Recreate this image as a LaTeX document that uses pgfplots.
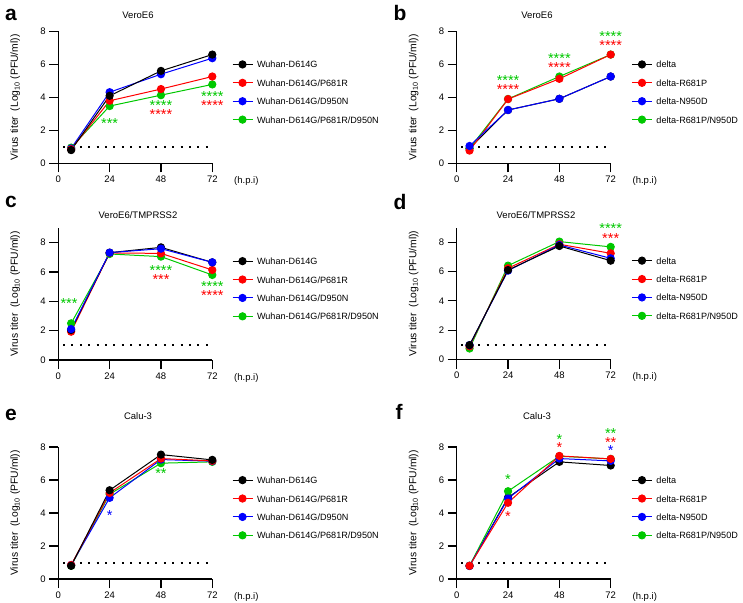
\documentclass[border=0pt]{standalone}
\usepackage{fontspec}
\setmainfont{Liberation Sans}
\usepackage{pgfplots}
\pgfplotsset{compat=1.18}
\definecolor{cred}{RGB}{255,0,0}
\definecolor{cblue}{RGB}{0,0,255}
\definecolor{cgreen}{RGB}{0,200,0}
\newcommand{\fs}[1]{\fontsize{#1}{#1}\selectfont}
\newcommand{\ylab}{Virus titer\ \ (Log\textsubscript{10} (PFU/ml))}
\pgfplotsset{
 panel/.style={
  scale only axis, width=154pt, height=132pt,
  xmin=0, xmax=72, ymin=0, ymax=8,
  axis x line=bottom, axis y line=left,
  axis line style={line width=1.1pt, -},
  xtick={0,24,48,72}, ytick={0,2,4,6,8},
  tick align=outside, major tick length=9pt,
  tick style={line width=1.1pt, black},
  ticklabel style={font=\fs{9.5}},
  /pgf/number format/assume math mode=true,
  clip=false,
  legend cell align=left,
  legend style={draw=none, fill=none, anchor=west, inner sep=0pt, outer sep=0pt,
    font=\fs{9.1}, row sep=11.2pt,
    nodes={inner sep=0pt, text height=7pt, text depth=0pt},
    /tikz/every odd column/.append style={column sep=4pt}},
  legend image code/.code={\draw[mark repeat=2,mark phase=2] plot coordinates {(0pt,0pt) (10pt,0pt) (20pt,0pt)};},
 },
 left/.style={legend style={at={(1.128,0.54)}}},
 right/.style={legend style={at={(1.135,0.54)}}},
 ser/.style={line width=1pt, color=#1, mark=*, mark size=3.6pt, mark options={solid, fill=#1, draw=#1}},
 lod/.style={black, line width=2pt, dash pattern=on 2pt off 6.4pt, forget plot},
}
\tikzset{st/.style={font=\fs{14.5}, inner sep=0pt, text height=10.2pt, text depth=-5pt, yshift=-0.6pt},
 hpi/.style={anchor=west, font=\fs{9.5}, xshift=18.4pt, yshift=-17.7pt},
 ylb/.style={rotate=90, font=\fs{10.3}},
 ttl/.style={font=\fs{9.5}},
 let/.style={anchor=base west, font=\fs{21}\bfseries}}
\newcommand{\leftleg}{%
 \addlegendimage{ser=black}\addlegendentry{Wuhan-D614G}
 \addlegendimage{ser=cred}\addlegendentry{Wuhan-D614G/P681R}
 \addlegendimage{ser=cblue}\addlegendentry{Wuhan-D614G/D950N}
 \addlegendimage{ser=cgreen}\addlegendentry{Wuhan-D614G/P681R/D950N}}
\newcommand{\rightleg}{%
 \addlegendimage{ser=black}\addlegendentry{delta}
 \addlegendimage{ser=cred}\addlegendentry{delta-R681P}
 \addlegendimage{ser=cblue}\addlegendentry{delta-N950D}
 \addlegendimage{ser=cgreen}\addlegendentry{delta-R681P/N950D}}
\begin{document}
\begin{tikzpicture}
\useasboundingbox (0,0) rectangle (743pt,-602pt);
% titles and letters
\node[let] at (1.5pt,-20.7pt) {a};
\node[let] at (390pt,-20.7pt) {b};
\node[let] at (1.5pt,-207.5pt) {c};
\node[let] at (390pt,-209pt) {d};
\node[let] at (1.5pt,-420pt) {e};
\node[let] at (392pt,-419pt) {f};
\node[ttl] at (138pt,-15pt) {VeroE6};
\node[ttl] at (537pt,-15pt) {VeroE6};
\node[ttl] at (138pt,-215pt) {VeroE6/TMPRSS2};
\node[ttl] at (536pt,-215pt) {VeroE6/TMPRSS2};
\node[ttl] at (138pt,-416pt) {Calu-3};
\node[ttl] at (537pt,-416pt) {Calu-3};

% ---- a
\begin{axis}[panel, left, at={(58.3pt,-163.3pt)}, anchor=south west]
\addplot[lod] coordinates {(2.2,1) (69.8,1)};
\addplot[ser=cgreen, forget plot] coordinates {(6,0.95)(24,3.47)(48,4.13)(72,4.78)};
\addplot[ser=cblue, forget plot] coordinates {(6,0.9)(24,4.31)(48,5.4)(72,6.37)};
\addplot[ser=cred, forget plot] coordinates {(6,0.85)(24,3.79)(48,4.5)(72,5.26)};
\addplot[ser=black, forget plot] coordinates {(6,0.8)(24,4.09)(48,5.6)(72,6.59)};
\leftleg
\node[st, cgreen] at (axis cs:24,2.48) {***};
\node[st, cgreen] at (axis cs:48,3.57) {****};
\node[st, cred] at (axis cs:48,3.02) {****};
\node[st, cgreen] at (axis cs:72,4.11) {****};
\node[st, cred] at (axis cs:72,3.55) {****};
\node[hpi] at (axis cs:72,0) {(h.p.i)};
\node[ylb] at ([xshift=-43pt]rel axis cs:0,0.5) {\ylab};
\end{axis}

% ---- b
\begin{axis}[panel, right, at={(456.7pt,-163.3pt)}, anchor=south west]
\addplot[lod] coordinates {(2.2,1) (69.8,1)};
\addplot[ser=black, forget plot] coordinates {(6,0.9)(24,3.23)(48,3.91)(72,5.26)};
\addplot[ser=cgreen, forget plot] coordinates {(6,0.9)(24,3.9)(48,5.26)(72,6.59)};
\addplot[ser=cred, forget plot] coordinates {(6,0.77)(24,3.89)(48,5.12)(72,6.59)};
\addplot[ser=cblue, forget plot] coordinates {(6,1.05)(24,3.23)(48,3.91)(72,5.26)};
\rightleg
\node[st, cgreen] at (axis cs:24,5.08) {****};
\node[st, cred] at (axis cs:24,4.54) {****};
\node[st, cgreen] at (axis cs:48,6.41) {****};
\node[st, cred] at (axis cs:48,5.85) {****};
\node[st, cgreen] at (axis cs:72,7.74) {****};
\node[st, cred] at (axis cs:72,7.2) {****};
\node[hpi] at (axis cs:72,0) {(h.p.i)};
\node[ylb] at ([xshift=-43pt]rel axis cs:0,0.5) {\ylab};
\end{axis}

% ---- c
\begin{axis}[panel, left, ymax=9, at={(58.3pt,-360pt)}, anchor=south west]
\addplot[lod] coordinates {(2.2,1) (69.8,1)};
\addplot[ser=cgreen, forget plot] coordinates {(6,2.5)(24,7.23)(48,7.05)(72,5.8)};
\addplot[ser=cred, forget plot] coordinates {(6,1.93)(24,7.3)(48,7.27)(72,6.14)};
\addplot[ser=black, forget plot] coordinates {(6,2.05)(24,7.32)(48,7.68)(72,6.66)};
\addplot[ser=cblue, forget plot] coordinates {(6,2.11)(24,7.32)(48,7.59)(72,6.66)};
\leftleg
\node[st, cgreen] at (axis cs:5,3.9) {***};
\node[st, cgreen] at (axis cs:48,6.18) {****};
\node[st, cred] at (axis cs:48,5.52) {***};
\node[st, cgreen] at (axis cs:72,5.05) {****};
\node[st, cred] at (axis cs:72,4.43) {****};
\node[hpi] at (axis cs:72,0) {(h.p.i)};
\node[ylb] at ([xshift=-43pt]rel axis cs:0,0.5) {\ylab};
\end{axis}

% ---- d
\begin{axis}[panel, right, ymax=9, at={(456.7pt,-359.5pt)}, anchor=south west]
\addplot[lod] coordinates {(2.2,1) (69.8,1)};
\addplot[ser=cgreen, forget plot] coordinates {(6,0.75)(24,6.4)(48,8.04)(72,7.68)};
\addplot[ser=cred, forget plot] coordinates {(6,0.9)(24,6.22)(48,7.86)(72,7.24)};
\addplot[ser=cblue, forget plot] coordinates {(6,0.98)(24,6.06)(48,7.81)(72,6.9)};
\addplot[ser=black, forget plot] coordinates {(6,0.98)(24,6.1)(48,7.74)(72,6.74)};
\rightleg
\node[st, cgreen] at (axis cs:72,8.95) {****};
\node[st, cred] at (axis cs:72,8.31) {***};
\node[hpi] at (axis cs:72,0) {(h.p.i)};
\node[ylb] at ([xshift=-43pt]rel axis cs:0,0.5) {\ylab};
\end{axis}

% ---- e
\begin{axis}[panel, left, at={(58.3pt,-579pt)}, anchor=south west]
\addplot[lod] coordinates {(2.2,1) (69.8,1)};
\addplot[ser=cgreen, forget plot] coordinates {(6,0.8)(24,5.14)(48,7.02)(72,7.1)};
\addplot[ser=cblue, forget plot] coordinates {(6,0.85)(24,4.92)(48,7.24)(72,7.14)};
\addplot[ser=cred, forget plot] coordinates {(6,0.85)(24,5.22)(48,7.3)(72,7.16)};
\addplot[ser=black, forget plot] coordinates {(6,0.8)(24,5.38)(48,7.54)(72,7.22)};
\leftleg
\node[st, cblue] at (axis cs:24,3.87) {*};
\node[st, cgreen] at (axis cs:48,6.43) {**};
\node[hpi] at (axis cs:72,0) {(h.p.i)};
\node[ylb] at ([xshift=-43pt]rel axis cs:0,0.5) {\ylab};
\end{axis}

% ---- f
\begin{axis}[panel, right, at={(456.7pt,-579pt)}, anchor=south west]
\addplot[lod] coordinates {(2.2,1) (69.8,1)};
\addplot[ser=black, forget plot] coordinates {(6,0.8)(24,4.94)(48,7.1)(72,6.88)};
\addplot[ser=cgreen, forget plot] coordinates {(6,0.8)(24,5.32)(48,7.44)(72,7.28)};
\addplot[ser=cblue, forget plot] coordinates {(6,0.79)(24,4.88)(48,7.3)(72,7.16)};
\addplot[ser=cred, forget plot] coordinates {(6,0.8)(24,4.62)(48,7.46)(72,7.28)};
\rightleg
\node[st, cgreen] at (axis cs:24,6.07) {*};
\node[st, cred] at (axis cs:24,3.81) {*};
\node[st, cgreen] at (axis cs:48,8.5) {*};
\node[st, cred] at (axis cs:48,8.0) {*};
\node[st, cgreen] at (axis cs:72,8.85) {**};
\node[st, cred] at (axis cs:72,8.31) {**};
\node[st, cblue] at (axis cs:72,7.84) {*};
\node[hpi] at (axis cs:72,0) {(h.p.i)};
\node[ylb] at ([xshift=-43pt]rel axis cs:0,0.5) {\ylab};
\end{axis}
\end{tikzpicture}
\end{document}
